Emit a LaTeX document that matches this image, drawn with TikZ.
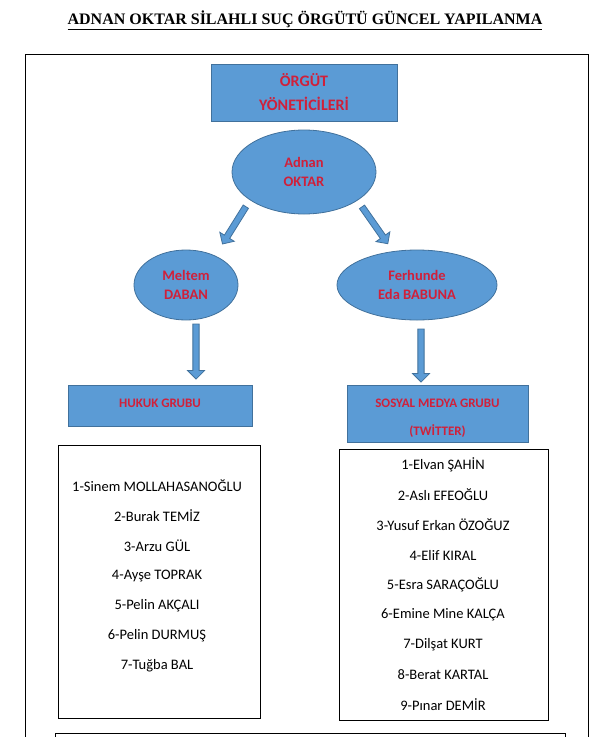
\documentclass[tikz,border=0pt]{standalone}
\usepackage{fontspec}
\setmainfont{Carlito}
\newfontfamily\titlefont{Liberation Serif}
\usetikzlibrary{shapes.geometric,shapes.arrows}
\definecolor{bfill}{HTML}{5B9BD5}
\definecolor{bdraw}{HTML}{41719C}
\definecolor{rtext}{HTML}{D0203A}
\begin{document}
\begin{tikzpicture}[x=1pt,y=-1pt,
  blue/.style={fill=bfill,draw=bdraw,line width=0.8pt},
  rbox/.style={blue,rectangle,inner sep=0pt},
  ell/.style={blue,ellipse,inner sep=0pt},
  lab/.style={text=rtext,font=\bfseries\fontsize{14.5}{19}\selectfont,align=center},
  blk/.style={blue,single arrow,minimum height=#1,single arrow head extend=5pt,minimum width=17pt,inner sep=2.5pt},
  item/.style={font=\fontsize{14.5}{16}\selectfont,inner sep=0pt},
  frame/.style={draw=black,line width=0.7pt}]
\useasboundingbox (0,0) rectangle (610,737);
\node[font=\titlefont\bfseries\fontsize{16}{18}\selectfont] (title) at (305,20) {\underline{ADNAN OKTAR SİLAHLI SUÇ ÖRGÜTÜ GÜNCEL YAPILANMA}};
\draw[frame] (25,745) -- (25,54) -- (588,54) -- (588,745);
\node[rbox,minimum width=186pt,minimum height=57pt] (top) at (304,92.5) {};
\node[lab,font=\bfseries\fontsize{16}{24}\selectfont] at (top) {ÖRGÜT\\YÖNETİCİLERİ};
\node[ell,minimum width=144pt,minimum height=84pt] (adnan) at (304,172) {};
\node[lab] at (adnan) {Adnan\\OKTAR};
\node[ell,minimum width=104pt,minimum height=70pt] (meltem) at (186,285) {};
\node[lab] at (meltem) {Meltem\\DABAN};
\node[ell,minimum width=160pt,minimum height=70pt] (ferh) at (417,285) {};
\node[lab] at (ferh) {Ferhunde\\Eda BABUNA};
\node[blk=44pt,rotate=-122] (a1) at (235,224) {};
\node[blk=45pt,rotate=-55] (a2) at (374,224) {};
\node[blk=55pt,rotate=-90] (a3) at (196,350) {};
\node[blk=53pt,rotate=-90] (a4) at (421,354) {};
\node[rbox,minimum width=184pt,minimum height=41pt] (hukuk) at (160,405.5) {};
\node[lab,font=\bfseries\fontsize{13}{15}\selectfont] at (160,403) {HUKUK GRUBU};
\node[rbox,minimum width=181pt,minimum height=57pt] (sosyal) at (437.5,413.5) {};
\node[lab,font=\bfseries\fontsize{13}{15}\selectfont] at (437.5,403) {SOSYAL MEDYA GRUBU};
\node[lab,font=\bfseries\fontsize{13}{15}\selectfont] at (437.5,431) {(TWİTTER)};
\draw[frame] (58,445) rectangle (260,718);
\draw[frame] (339,449) rectangle (548,720);
\draw[frame] (55,745) -- (55,733) -- (565,733) -- (565,745);
\foreach \t [count=\i] in {1-Sinem MOLLAHASANOĞLU,2-Burak TEMİZ,3-Arzu GÜL,4-Ayşe TOPRAK,5-Pelin AKÇALI,6-Pelin DURMUŞ,7-Tuğba BAL}
  \node[item] (l\i) at (157,{456+30*\i}) {\t};
\foreach \t [count=\i] in {1-Elvan ŞAHİN,2-Aslı EFEOĞLU,3-Yusuf Erkan ÖZOĞUZ,4-Elif KIRAL,5-Esra SARAÇOĞLU,6-Emine Mine KALÇA,7-Dilşat KURT,8-Berat KARTAL,9-Pınar DEMİR}
  \node[item] (r\i) at (443,{435+30*\i}) {\t};
\end{tikzpicture}
\end{document}
